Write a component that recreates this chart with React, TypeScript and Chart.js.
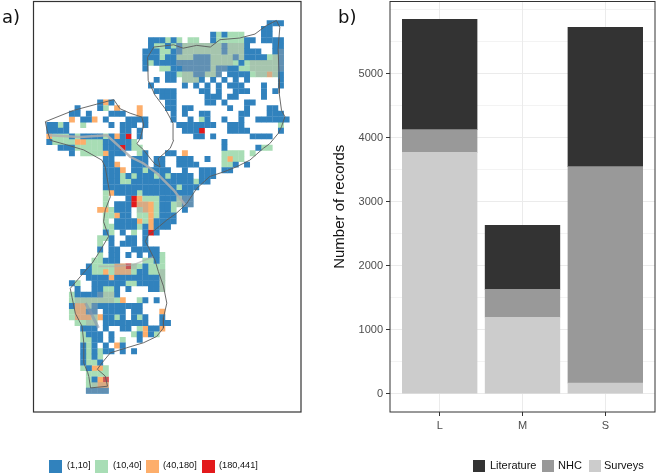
import React, { useEffect, useRef } from "react";
import { Chart, registerables } from "chart.js";

Chart.register(...registerables);

const recordClasses = ["L", "M", "S"];
const literature = [1725, 1000, 2178];
const nhc = [355, 435, 3380];
const surveys = [3770, 1195, 167];

const mapClasses = ["(1,10]", "(10,40]", "(40,180]", "(180,441]"];
const mapColors = ["#3182bd", "#a8ddb5", "#fdae6b", "#e31a1c"];
const classKeys = ["b", "g", "o", "r"];

// one entry per grid row: "column:cells", cells coded by classKeys
const gridRows = [
  "39:bbb",
  "38:bb",
  "29:bgbggg 38:bb",
  "18:bbbgbg 25:gg 29:bggggg 35:bb 38:bbbb",
  "18:bggbgb 24:ggggggg 31:b 32:ggg 35:b 40:bb",
  "17:bbbgg 22:bb 24:ggggggg 31:b 32:ggg 35:bbb 40:bb",
  "17:bbbgbb 23:ggg 26:bbb 29:gggg 33:b 34:g 35:bb 37:bb 39:gg 41:b",
  "17:bgbbbb 23:bbb 26:bbb 29:ggggg 34:b 35:gggggg 41:b",
  "17:b 20:gg 22:bb 24:bb 26:bbb 29:g 30:bbbb 34:g 35:gggggg 41:b",
  "21:bb 23:ggg 26:bb 28:gg 30:b 32:bbbb 36:ggg 39:o 40:g 41:b",
  "19:b 21:bb 24:ggg 27:b 29:b 31:b 33:b 35:b 41:b",
  "18:b 24:b 26:b 28:b 30:b 32:bbb 38:b 41:b",
  "19:bbbb 27:bb 30:b 33:bbb 38:b 40:b",
  "20:bbb 28:bbb 32:bb 38:b",
  "9:bob 21:bb 28:bb 31:b 35:bb",
  "5:b 9:bg 12:o 16:o 21:bb 24:bb 32:b 35:b 39:bb",
  "4:bb 7:b 11:bbb 16:o 22:b 24:b 27:bb 34:bb 39:bbb",
  "4:o 6:bb 8:o 10:b 14:bbbb 22:b 25:b 27:gb 31:b 34:b 37:bbbbbb",
  "0:bbgb 6:g 11:b 13:b 14:bb 17:b 23:bbbbbbb 32:bbb 41:g",
  "0:bbbb 13:bb 16:b 24:bbb 27:r 32:bbbb 41:b",
  "0:oggg 4:b 5:g 6:bbbb 10:g 11:b 12:o 13:b 14:r 16:b 26:bb 29:b 36:bbbb",
  "0:bgggg 5:oo 7:ggg 10:bbb 13:bb 15:g 31:b",
  "2:bbb 5:ggggg 10:bbb 13:r 14:b 15:gg 31:b 37:b 38:gg",
  "4:b 6:gggg 10:o 11:bbb 16:g 17:b 21:bb 24:o 31:gggg 36:g",
  "10:bb 15:bb 17:b 19:bb 23:bbb 28:b 31:gogg",
  "10:bb 12:o 15:bbb 19:bb 23:bbbb 31:gg 33:b 35:b",
  "10:bbb 13:o 15:bb 17:g 18:bbbb 24:b 27:bbb 31:bb",
  "10:bbb 13:g 14:b 15:g 16:bbb 19:g 20:b 21:g 22:bbbb 27:bbb",
  "10:bbb 13:gg 15:bbbbbbbbbbb 26:g 27:bb",
  "10:bbbbbbbbbbbbb 23:g 24:bbb",
  "10:g 11:o 12:bbbb 16:g 17:bbbbbbbb 25:b",
  "10:g 14:b 15:r 16:o 17:gg 19:g 20:bbb 23:gb 25:b",
  "10:g 12:bbb 15:r 16:ooo 19:g 20:bb 22:gg 24:bb",
  "9:oo 11:g 12:bbb 16:goo 19:g 20:bb 22:g 24:b",
  "10:gg 12:o 13:bb 16:gg 18:o 19:g 20:bbb",
  "10:g 12:bbbb 16:o 17:g 18:o 19:bb 21:b 22:b",
  "10:gg 12:bbbb 16:gbo 19:bbb",
  "10:b 11:g 13:b 15:g 17:b 18:r 19:b",
  "9:gg 11:b 14:bb 17:b",
  "9:g 11:b 13:bbb 17:b",
  "9:b 11:bb 15:bbb 18:bb",
  "9:g 11:bb 14:b 16:b 18:bbg",
  "8:gg 10:bbb 17:g 18:g 19:b 20:g",
  "7:b 8:gggg 12:oo 14:r 15:gg 17:b 18:ggg",
  "6:bb 8:gg 10:o 11:g 12:ooo 15:g 16:bb 18:ggg",
  "7:b 8:bbb 11:o 12:bbbb 16:bbbb 20:g",
  "4:b 5:g 8:bbbbbb 14:gg 16:bbbb 20:g",
  "5:b 8:bb 10:gg 12:b 14:b 18:bb 20:g",
  "4:g 5:bbbbb 10:gg 12:b",
  "4:ggggggggg 13:o 16:g 17:b 19:b",
  "4:b 5:oo 7:g 8:bbb 11:bbbb 15:bb",
  "4:g 5:oo 7:bb 10:bbbb 15:bb 20:o",
  "4:g 5:ooo 8:g 9:o 10:bb 12:g 13:b 15:b 16:g 17:b 20:b",
  "5:ggg 8:g 10:bbbbb 15:bbb 20:bb",
  "6:bbb 10:b 13:bb 16:g 17:obb 20:o",
  "6:g 7:bbb 11:b 15:g 16:b 17:o 18:b 19:g",
  "6:gg 8:bb 11:b 13:g 16:b",
  "6:bg 8:b 10:b 12:ob",
  "6:bg 8:bg 10:bb 13:b 15:b",
  "6:bg 8:bg",
  "6:bgg 9:b",
  "6:gb 8:oo 10:g",
  "7:gggg",
  "7:gbor",
  "7:gg 9:oo",
  "7:bbbb",
];

// translucent protected-area shading: [row, first column, cell count]
const shadedCells = [
  [4, 23, 12], [5, 23, 12], [6, 23, 12], [7, 23, 10], [8, 24, 8], [9, 24, 7], [10, 24, 3],
  [5, 41, 1], [6, 40, 2], [7, 36, 6], [8, 36, 6], [9, 37, 4],
  [32, 16, 2], [33, 16, 2], [31, 23, 3], [32, 23, 3],
  [43, 12, 4], [44, 12, 3], [44, 20, 1], [45, 20, 1], [46, 20, 1], [47, 20, 1],
  [48, 9, 3], [49, 5, 7], [50, 5, 4], [51, 5, 4], [52, 5, 4], [53, 7, 2],
  [63, 10, 1], [64, 8, 3], [65, 7, 4],
];

const borderU = [-0.2, 4.8, 8.9, 11.9, 13, 14.8, 16.9, 17.2, 16.6, 16, 17.2, 18.6, 19.2, 20.1, 19.8, 21.9, 22.5, 22.4, 21, 19.2, 18, 17.9, 19, 22.5, 24.2, 26.6, 29, 30.7, 34.2, 36.9, 38.9, 40.7, 41.3, 41, 41.2, 41.2, 41.6, 42.2, 41.6, 41, 39.5, 38.4, 36, 33.6, 31.3, 28.9, 26.6, 24.8, 23, 21.3, 19.5, 18, 17.5, 18.1, 19.2, 19.8, 20.7, 21.3, 20.7, 20.7, 19.5, 17.2, 14.2, 11.3, 9.8, 9, 10.4, 10.8, 7.8, 7.5, 7.3, 6.6, 6.6, 6.3, 5.1, 4.2, 6, 8.1, 9.2, 11, 10.1, 10.4, 11.3, 10.4, 9.8, 6.6, 3.6, 0.7, 0.1, -0.2];
const borderV = [17.9, 15.9, 14.8, 14, 15.6, 16.4, 17.1, 18.5, 20.9, 21.8, 22.9, 24.7, 25.4, 25.9, 24.4, 22.6, 21.2, 18.2, 15.6, 13.2, 10.6, 6.5, 4.7, 4.3, 4.9, 4.4, 4.7, 3.4, 3.1, 2.4, 0.9, 0, 1.2, 5, 10.3, 12.9, 15.9, 17, 18.8, 20, 21.8, 22.6, 24.7, 25.9, 26.8, 27.6, 29.7, 32.4, 34.1, 35.3, 36.8, 38, 39.1, 40.2, 42.4, 44.4, 47, 50, 52.6, 54.4, 55.9, 57, 57.9, 58.8, 60.6, 61.7, 62.9, 64.7, 65, 63, 62.3, 60.6, 57, 54.1, 51.8, 47.4, 45.3, 42.9, 41.2, 38.2, 35.6, 33.5, 31.2, 25.9, 24.7, 22.9, 22, 21.2, 19.4, 17.9];

const zambeziU = [0.4, 6, 10.7, 13, 14.8, 17.2, 19.5, 22.5, 24.5];
const zambeziV = [20.3, 20.6, 20.3, 22.4, 24.1, 25.3, 27, 30, 32.6];
const saveU = [9.2, 12, 15.4, 18.9];
const saveV = [43.5, 43.5, 43.2, 41.8];
const limpopoU = [6.9, 8, 9.2];
const limpopoV = [50, 52, 54.4];

const yBreaks = [0, 500, 1000, 1500, 2000, 2500, 3000, 3500, 4000, 4500, 5000, 5500, 6000];
const yLabelled = [0, 1000, 2000, 3000, 4000, 5000];

const legendA = [
  { label: mapClasses[0], color: mapColors[0], box: 49, text: 67 },
  { label: mapClasses[1], color: mapColors[1], box: 95, text: 113 },
  { label: mapClasses[2], color: mapColors[2], box: 146, text: 163 },
  { label: mapClasses[3], color: mapColors[3], box: 202, text: 219 },
];
const legendB = [
  { label: "Literature", color: "#333333", box: 473, text: 490 },
  { label: "NHC", color: "#999999", box: 542, text: 558 },
  { label: "Surveys", color: "#cccccc", box: 589, text: 604 },
];

const FONT = "'Liberation Sans', Arial, sans-serif";

const cellsOf = (key: string) => {
  const pts: { x: number; y: number }[] = [];
  gridRows.forEach((row, r) => {
    row.split(" ").forEach((seg) => {
      const [c, cells] = seg.split(":");
      [...cells].forEach((k, i) => {
        if (k === key) pts.push({ x: Number(c) + i + 0.5, y: r + 0.5 });
      });
    });
  });
  return pts;
};

const shadedPoints = () => {
  const pts: { x: number; y: number }[] = [];
  shadedCells.forEach(([r, c, n]) => {
    for (let i = 0; i < n; i++) pts.push({ x: c + i + 0.5, y: r + 0.5 });
  });
  return pts;
};

const path = (us: number[], vs: number[]) => us.map((x, i) => ({ x, y: vs[i] }));

const frame = (color: string, width: number) => ({
  id: "frame",
  afterDraw(chart: any) {
    const { left, top, width: w, height: h } = chart.chartArea;
    const ctx = chart.ctx;
    ctx.save();
    ctx.strokeStyle = color;
    ctx.lineWidth = width;
    ctx.strokeRect(left, top, w, h);
    ctx.restore();
  },
});

const lineSet = (data: any[], color: string, width: number, order: number) => ({
  type: "scatter",
  data,
  showLine: true,
  borderColor: color,
  borderWidth: width,
  pointRadius: 0,
  fill: false,
  order,
});

const noPad = (s: any) => {
  s.paddingTop = 0;
  s.paddingBottom = 0;
  s.paddingLeft = 0;
  s.paddingRight = 0;
};

export default function App() {
  const mapRef = useRef<HTMLCanvasElement>(null);
  const barRef = useRef<HTMLCanvasElement>(null);

  useEffect(() => {
    const map = new Chart(mapRef.current as HTMLCanvasElement, {
      type: "scatter",
      data: {
        datasets: [
          ...classKeys.map((k, i) => ({
            label: mapClasses[i],
            data: cellsOf(k),
            pointStyle: "rect",
            pointRadius: 4.2,
            pointBorderWidth: 0,
            backgroundColor: mapColors[i],
            order: 10,
          })),
          {
            label: "shade",
            data: shadedPoints(),
            pointStyle: "rect",
            pointRadius: 4.0,
            pointBorderWidth: 0,
            backgroundColor: "rgba(165,165,165,0.42)",
            order: 5,
          },
          lineSet(path(zambeziU, zambeziV), "rgba(175,175,175,0.85)", 2.4, 4),
          lineSet(path(saveU, saveV), "rgba(175,175,175,0.6)", 1.6, 4),
          lineSet(path(limpopoU, limpopoV), "rgba(130,150,175,0.6)", 3, 4),
          lineSet(path(borderU, borderV), "#5a5a5a", 0.9, 1),
        ] as any,
      },
      options: {
        animation: false,
        responsive: false,
        layout: { autoPadding: false, padding: { left: 33.5, top: 1.5, right: 29, bottom: 61 } },
        plugins: { legend: { display: false }, tooltip: { enabled: false } },
        scales: {
          x: { type: "linear", display: false, min: -2.3, max: 45.05 },
          y: { type: "linear", display: false, reverse: true, min: -3.36, max: 69.26 },
        },
      },
      plugins: [frame("#333333", 1.2)],
    } as any);

    const toXY = (vals: number[]) => vals.map((y, i) => ({ x: i + 1, y }));
    const isMajor = (v: number) => yLabelled.includes(v);

    const bar = new Chart(barRef.current as HTMLCanvasElement, {
      type: "bar",
      data: {
        datasets: [
          { label: "Surveys", data: toXY(surveys), backgroundColor: "#cccccc", stack: "all", barThickness: 74.7 },
          { label: "NHC", data: toXY(nhc), backgroundColor: "#999999", stack: "all", barThickness: 74.7 },
          { label: "Literature", data: toXY(literature), backgroundColor: "#333333", stack: "all", barThickness: 74.7 },
        ],
      },
      options: {
        animation: false,
        responsive: false,
        layout: { padding: { left: 0, top: 1.5, right: 1, bottom: 0 } },
        plugins: { legend: { display: false }, tooltip: { enabled: false } },
        scales: {
          x: {
            type: "linear",
            offset: false,
            min: 0.4,
            max: 3.6,
            afterBuildTicks: (s: any) => {
              s.ticks = recordClasses.map((_, i) => ({ value: i + 1 }));
            },
            afterFit: (s: any) => {
              s.height = 61;
              noPad(s);
            },
            ticks: {
              autoSkip: false,
              maxRotation: 0,
              color: "#4d4d4d",
              padding: 3,
              font: { family: FONT, size: 11 },
              callback: (v: any) => recordClasses[Number(v) - 1],
            },
            grid: { offset: false, color: "#ebebeb", lineWidth: 1, tickColor: "#333333", tickLength: 4, tickWidth: 1 },
            border: { display: false },
          },
          y: {
            type: "linear",
            stacked: true,
            min: -286,
            max: 6128,
            afterBuildTicks: (s: any) => {
              s.ticks = yBreaks.map((value) => ({ value }));
            },
            afterFit: (s: any) => {
              s.width = 60;
              noPad(s);
            },
            title: {
              display: true,
              text: "Number of records",
              color: "#111111",
              padding: { top: 1, bottom: 0 },
              font: { family: FONT, size: 15 },
            },
            ticks: {
              autoSkip: false,
              color: "#4d4d4d",
              padding: 3,
              font: { family: FONT, size: 11 },
              callback: (v: any) => (isMajor(Number(v)) ? String(v) : ""),
            },
            grid: {
              color: "#ebebeb",
              lineWidth: (c: any) => (isMajor(c.tick.value) ? 1 : 0.6),
              tickColor: (c: any) => (isMajor(c.tick.value) ? "#333333" : "transparent"),
              tickLength: 4,
              tickWidth: 1,
            },
            border: { display: false },
          },
        },
      },
      plugins: [frame("#333333", 1)],
    } as any);

    return () => {
      map.destroy();
      bar.destroy();
    };
  }, []);

  const abs: React.CSSProperties = { position: "absolute" };
  const legendItem = (it: { label: string; color: string; box: number; text: number }, size: number, font: number) => (
    <React.Fragment key={it.label}>
      <div style={{ ...abs, left: it.box, top: 466 - size / 2, width: size, height: size, background: it.color }} />
      <div style={{ ...abs, left: it.text, top: 466 - font * 0.6, fontFamily: FONT, fontSize: font, lineHeight: `${font * 1.2}px`, color: "#111", whiteSpace: "nowrap" }}>
        {it.label}
      </div>
    </React.Fragment>
  );

  return (
    <div style={{ position: "fixed", left: 0, top: 0, width: 656, height: 473, background: "#fff", overflow: "hidden" }}>
      <canvas ref={mapRef} width={330} height={473} style={{ ...abs, left: 0, top: 0 }} />
      <canvas ref={barRef} width={326} height={473} style={{ ...abs, left: 330, top: 0 }} />
      <div style={{ ...abs, left: 2, top: 6, fontFamily: "'DejaVu Sans'", fontSize: 18, color: "#111" }}>a)</div>
      <div style={{ ...abs, left: 338, top: 6, fontFamily: "'DejaVu Sans'", fontSize: 18, color: "#111" }}>b)</div>
      {legendA.map((it) => legendItem(it, 13, 9.2))}
      {legendB.map((it) => legendItem(it, 11.5, 11))}
    </div>
  );
}
